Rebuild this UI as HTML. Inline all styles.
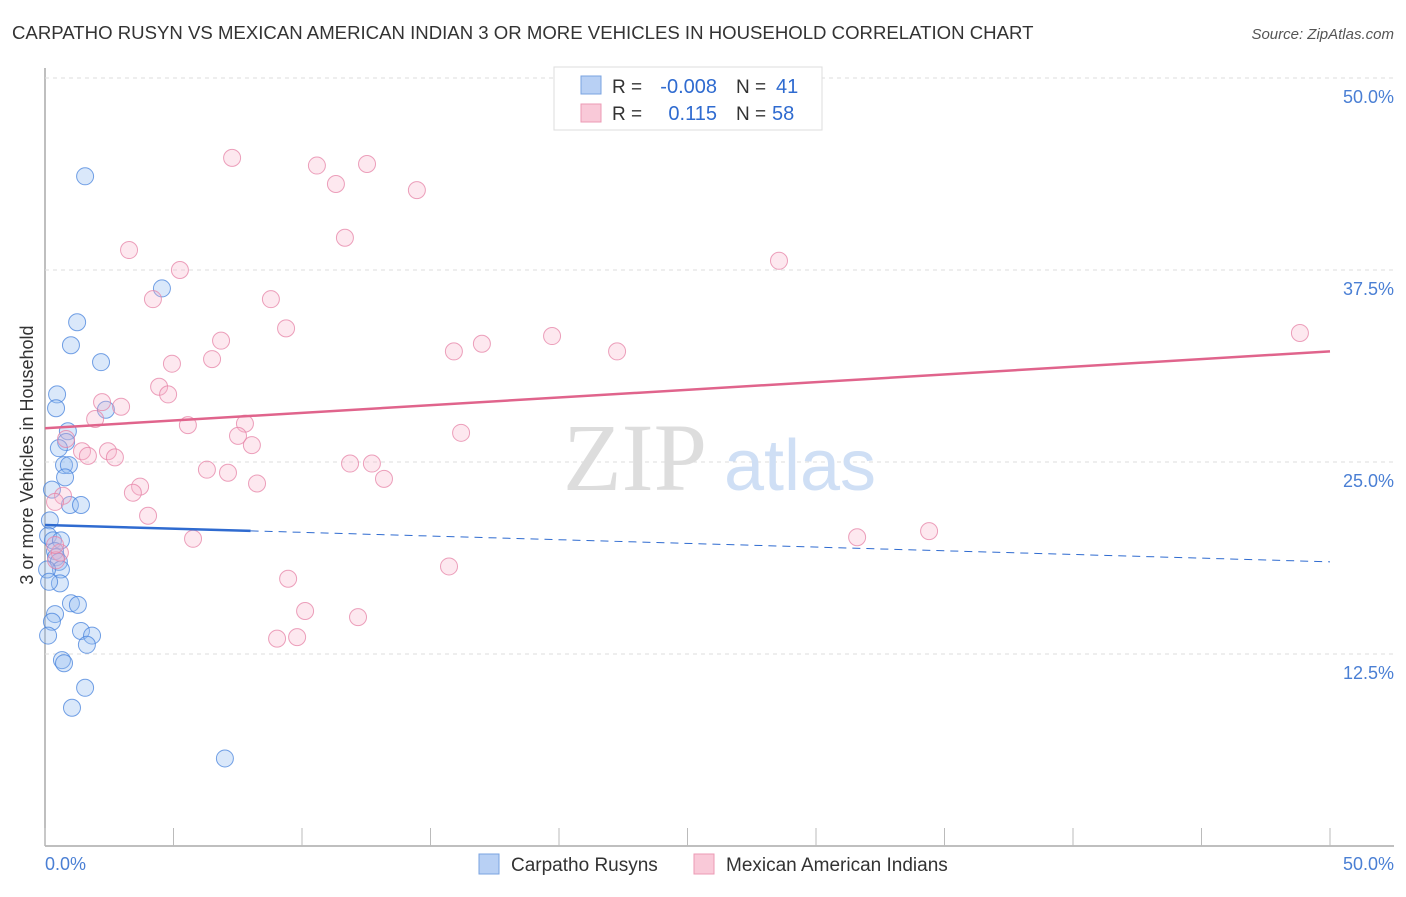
<!DOCTYPE html>
<html><head><meta charset="utf-8"><style>
body{margin:0;background:#fff;font-family:"Liberation Sans",sans-serif;}
</style></head><body>
<svg width="1406" height="892" xmlns="http://www.w3.org/2000/svg">
<text x="12" y="39" font-size="18.6" fill="#333">CARPATHO RUSYN VS MEXICAN AMERICAN INDIAN 3 OR MORE VEHICLES IN HOUSEHOLD CORRELATION CHART</text>
<text x="1394" y="39" font-size="15" fill="#555" font-style="italic" text-anchor="end">Source: ZipAtlas.com</text>
<g id="grid"></g>
<text x="635" y="490" font-size="96" fill="#ddd" font-family="Liberation Serif" text-anchor="middle">ZIP</text>
<text x="800" y="490" font-size="72" fill="#cfdff5" text-anchor="middle">atlas</text>
<g id="pts"></g>
<g id="lines"></g>
<text x="33" y="455" font-size="18" fill="#333" text-anchor="middle" transform="rotate(-90 33 455)">3 or more Vehicles in Household</text>
<text x="45" y="870" font-size="18" fill="#4a7fd4">0.0%</text>
<text x="1394" y="870" font-size="18" fill="#4a7fd4" text-anchor="end">50.0%</text>
<g>
<rect x="554" y="67" width="268" height="63" fill="#fff" stroke="#ddd"/>
<rect x="581" y="76" width="20" height="18" fill="#b8d0f4" stroke="#7aa3e0"/>
<rect x="581" y="104" width="20" height="18" fill="#f9c9d8" stroke="#ec9ab4"/>
<text x="612" y="93" font-size="19" fill="#333">R =</text>
<text x="717" y="93" font-size="20" fill="#2f6bd0" text-anchor="end">-0.008</text>
<text x="736" y="93" font-size="19" fill="#333">N =</text>
<text x="776" y="93" font-size="20" fill="#2f6bd0">41</text>
<text x="612" y="120" font-size="19" fill="#333">R =</text>
<text x="717" y="120" font-size="20" fill="#2f6bd0" text-anchor="end">0.115</text>
<text x="736" y="120" font-size="19" fill="#333">N =</text>
<text x="772" y="120" font-size="20" fill="#2f6bd0">58</text>
</g>
<g><rect x="479" y="854" width="20" height="20" fill="#b8d0f4" stroke="#7aa3e0"/><text x="511" y="871" font-size="19" fill="#333">Carpatho Rusyns</text></g>
<g><rect x="694" y="854" width="20" height="20" fill="#f9c9d8" stroke="#ec9ab4"/><text x="726" y="871" font-size="19" fill="#333">Mexican American Indians</text></g>
</svg>
<script>
const yTicks=[12.5,25,37.5,50];
const yTickLabels=["12.5%","25.0%","37.5%","50.0%"];
const blueX=[1.56,4.55,1.25,1.01,2.18,0.47,0.43,2.37,0.89,0.82,0.54,0.74,0.93,0.78,0.27,0.97,1.4,0.19,0.12,0.31,0.62,0.39,0.43,0.54,0.62,0.08,0.58,1.01,1.28,0.39,0.27,1.4,1.83,1.63,0.12,0.66,0.74,1.56,1.05,7.0,0.16];
const blueY=[43.6,36.3,34.1,32.6,31.5,29.4,28.5,28.4,27.0,26.3,25.9,24.8,24.8,24.0,23.2,22.2,22.2,21.2,20.2,19.9,19.9,19.2,18.8,18.5,18.0,18.0,17.1,15.8,15.7,15.1,14.6,14.0,13.7,13.1,13.7,12.1,11.9,10.3,9.0,5.7,17.2];
const pinkX=[7.28,10.58,12.53,11.32,14.47,11.67,3.27,5.25,28.56,4.2,8.79,9.38,48.83,6.85,17.0,19.73,15.91,22.26,6.5,4.94,4.44,4.79,2.22,2.96,1.95,7.78,5.56,7.51,0.82,8.05,16.19,1.44,2.45,1.67,2.72,11.87,12.72,6.3,7.12,13.19,8.25,3.70,3.42,0.7,0.39,4.01,5.76,31.6,34.4,15.72,9.46,10.12,12.18,9.03,9.81,0.58,0.43,0.39];
const pinkY=[44.8,44.3,44.4,43.1,42.7,39.6,38.8,37.5,38.1,35.6,35.6,33.7,33.4,32.9,32.7,33.2,32.2,32.2,31.7,31.4,29.9,29.4,28.9,28.6,27.8,27.5,27.4,26.7,26.5,26.1,26.9,25.7,25.7,25.4,25.3,24.9,24.9,24.5,24.3,23.9,23.6,23.4,23.0,22.8,22.4,21.5,20.0,20.1,20.5,18.2,17.4,15.3,14.9,13.5,13.6,19.1,18.6,19.6];
const blueTrend=[20.9,18.5]; const pinkTrend=[27.2,32.2];
const NS="http://www.w3.org/2000/svg";
const xs=v=>45+v*25.7, ys=v=>846-v*15.36;
function mk(t,a,p){const e=document.createElementNS(NS,t);for(const k in a)e.setAttribute(k,a[k]);p.appendChild(e);return e;}
const grid=document.getElementById('grid');
mk('line',{x1:45,y1:68,x2:45,y2:846,stroke:'#aaa','stroke-width':1.5},grid);
mk('line',{x1:45,y1:846,x2:1394,y2:846,stroke:'#aaa','stroke-width':1.5},grid);
for(let i=0;i<=10;i++){const l=mk('line',{x1:xs(i*5),y1:828,x2:xs(i*5),y2:846,stroke:'#bbb'},grid);

}
yTicks.forEach((t,i)=>{const l=mk('line',{x1:45,y1:ys(t),x2:1394,y2:ys(t),stroke:'#ddd','stroke-dasharray':'4 4'},grid);


const tx=mk('text',{x:1394,y:ys(t)+25,'font-size':18,fill:'#4a7fd4','text-anchor':'end'},grid);tx.textContent=yTickLabels[i];

});
const pts=document.getElementById('pts');
blueX.forEach((x,i)=>{const c=mk('circle',{cx:xs(x),cy:ys(blueY[i]),r:8.5,fill:'rgba(150,188,240,0.35)',stroke:'rgba(70,130,220,0.75)','stroke-width':1},pts);

});
pinkX.forEach((x,i)=>{const c=mk('circle',{cx:xs(x),cy:ys(pinkY[i]),r:8.5,fill:'rgba(248,180,202,0.3)',stroke:'rgba(230,130,165,0.75)','stroke-width':1},pts);

});
const ln=document.getElementById('lines');
const bAt=x=>blueTrend[0]+(blueTrend[1]-blueTrend[0])*x/50;
let l=mk('line',{x1:xs(0),y1:ys(bAt(0)),x2:xs(8),y2:ys(bAt(8)),stroke:'#2f6bd0','stroke-width':2.5},ln);


l=mk('line',{x1:xs(8),y1:ys(bAt(8)),x2:xs(50),y2:ys(bAt(50)),stroke:'#2f6bd0','stroke-width':1,'stroke-dasharray':'8 6'},ln);


l=mk('line',{x1:xs(0),y1:ys(pinkTrend[0]),x2:xs(50),y2:ys(pinkTrend[1]),stroke:'#e0648c','stroke-width':2.5},ln);


</script>
</body></html>
